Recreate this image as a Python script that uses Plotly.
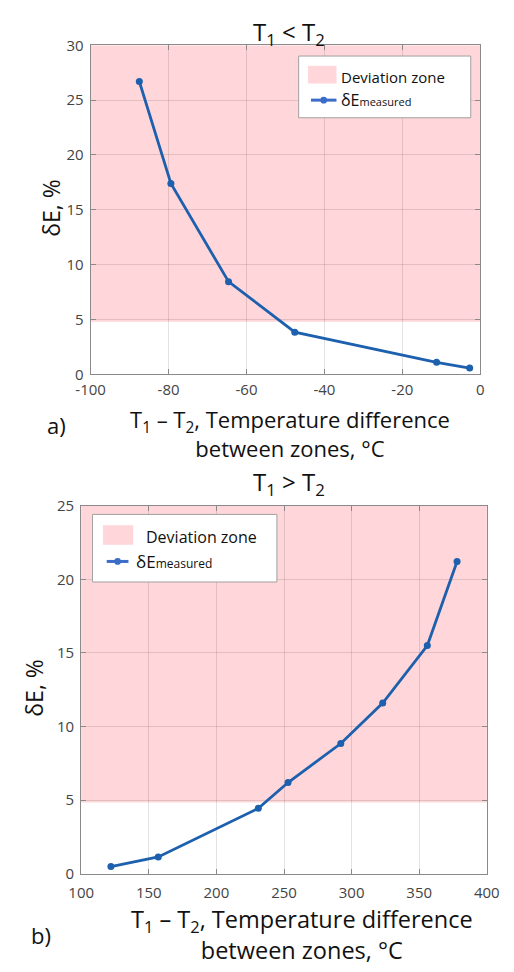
import plotly.graph_objects as go

# ---- data ----
dt_a = [-87.5, -79.4, -64.6, -47.6, -11.2, -2.7]
dE_a = [26.7, 17.4, 8.45, 3.85, 1.1, 0.57]

dt_b = [122, 157, 231, 253, 292, 323, 356, 378]
dE_b = [0.5, 1.15, 4.45, 6.2, 8.85, 11.6, 15.5, 21.2]

zone_threshold_a = 4.8
zone_threshold_b = 4.85

xrange_a = [-100, 0]
yrange_a = [0, 30]
xrange_b = [100, 400]
yrange_b = [0, 25]

xticks_a = [-100, -80, -60, -40, -20, 0]
yticks_a = [0, 5, 10, 15, 20, 25, 30]
xticks_b = [100, 150, 200, 250, 300, 350, 400]
yticks_b = [0, 5, 10, 15, 20, 25]

PINK = "#FFD6D9"
BLUE = "#1C60AE"
FONT = "Open Sans"
TXT = "#111111"
W, H = 514, 972


def px(v):
    return v / W


def py(v):
    return 1 - v / H


fig = go.Figure()

fig.add_trace(go.Scatter(x=dt_a, y=dE_a, mode="lines+markers",
                         line=dict(color=BLUE, width=2.8),
                         marker=dict(size=7, color=BLUE),
                         name="δE measured", xaxis="x", yaxis="y", showlegend=False))
fig.add_trace(go.Scatter(x=dt_b, y=dE_b, mode="lines+markers",
                         line=dict(color=BLUE, width=2.8),
                         marker=dict(size=7, color=BLUE),
                         name="δE measured", xaxis="x2", yaxis="y2", showlegend=False))

# deviation zones (below grid lines)
fig.add_shape(type="rect", xref="x domain", yref="y", x0=0, x1=1,
              y0=zone_threshold_a, y1=yrange_a[1], fillcolor=PINK,
              line=dict(width=0), layer="below")
fig.add_shape(type="rect", xref="x2 domain", yref="y2", x0=0, x1=1,
              y0=zone_threshold_b, y1=yrange_b[1], fillcolor=PINK,
              line=dict(width=0), layer="below")

axis_common = dict(showline=True, linecolor="#8a8a8a", linewidth=1.2,
                   mirror="ticks", ticks="inside", ticklen=5,
                   tickcolor="#8a8a8a", gridcolor="rgba(0,0,0,0.11)",
                   zeroline=False, tickfont=dict(family=FONT, size=15, color="#444444"),
                   fixedrange=True)

fig.update_layout(
    width=W, height=H,
    margin=dict(l=0, r=0, t=0, b=0),
    paper_bgcolor="white", plot_bgcolor="white",
    font=dict(family=FONT, color=TXT),
    showlegend=False,
    xaxis=dict(domain=[px(80), px(492)], range=xrange_a,
               tickvals=xticks_a, ticktext=[str(v) for v in xticks_a],
               ticklabelstandoff=2, anchor="y", **axis_common),
    yaxis=dict(domain=[py(371), py(35)], range=yrange_a,
               tickvals=yticks_a, ticktext=[str(v) for v in yticks_a],
               ticklabelstandoff=3, anchor="x", **axis_common),
    xaxis2=dict(domain=[px(70), px(499)], range=xrange_b,
                tickvals=xticks_b, ticktext=[str(v) for v in xticks_b],
                ticklabelstandoff=5, anchor="y2", **axis_common),
    yaxis2=dict(domain=[py(881), py(505)], range=yrange_b,
                tickvals=yticks_b, ticktext=[str(v) for v in yticks_b],
                ticklabelstandoff=3, anchor="x2", **axis_common),
)


def text(t, x, y, size, xanchor="center", angle=0):
    fig.add_annotation(text=t, x=px(x), y=py(y), xref="paper", yref="paper",
                       xanchor=xanchor, yanchor="middle", showarrow=False,
                       textangle=angle, font=dict(family=FONT, size=size, color=TXT))


# titles and labels
text("T<sub>1</sub> < T<sub>2</sub>", 290, 22, 24)
text("T<sub>1</sub> > T<sub>2</sub>", 290, 482, 24)
text("T<sub>1</sub> – T<sub>2</sub>, Temperature difference<br>between zones, °C", 291, 431, 22)
text("T<sub>1</sub> – T<sub>2</sub>, Temperature difference<br>between zones, °C", 304, 943, 23.5)
text("a)", 44, 423, 22)
text("b)", 27, 943, 22)
text("δE, %", 38, 201, 23, angle=-90)
text("δE, %", 20, 691, 23, angle=-90)


# manual legends
def legend(box, swatch, line_y, line_x, text_x, zone_y, size):
    x0, y0, x1, y1 = box
    fig.add_shape(type="rect", xref="paper", yref="paper",
                  x0=px(x0), x1=px(x1), y0=py(y1), y1=py(y0),
                  fillcolor="white", line=dict(color="#a0a0a0", width=1))
    sx0, sy0, sx1, sy1 = swatch
    fig.add_shape(type="rect", xref="paper", yref="paper",
                  x0=px(sx0), x1=px(sx1), y0=py(sy1), y1=py(sy0),
                  fillcolor=PINK, line=dict(width=0))
    lx0, lx1 = line_x
    fig.add_shape(type="line", xref="paper", yref="paper",
                  x0=px(lx0), x1=px(lx1), y0=py(line_y), y1=py(line_y),
                  line=dict(color="#3A6CC8", width=3))
    cx = (lx0 + lx1) / 2
    fig.add_shape(type="circle", xref="paper", yref="paper",
                  x0=px(cx - 3.5), x1=px(cx + 3.5), y0=py(line_y + 3.5), y1=py(line_y - 3.5),
                  fillcolor="#3A6CC8", line=dict(width=0))
    text("Deviation zone", text_x[0], zone_y, size, xanchor="left")
    text("δE<span style='font-size:%dpx'>measured</span>" % round(size * 0.72),
         text_x[1], line_y, size + 1, xanchor="left")


legend((300, 46, 482, 109), (310, 56, 340, 74), 91, (313, 340), (343, 343), 67, 15)
legend((82, 514, 277, 583), (93, 525, 125, 545), 562, (97, 120), (136, 126), 537, 16)

fig.write_html("out.html")
